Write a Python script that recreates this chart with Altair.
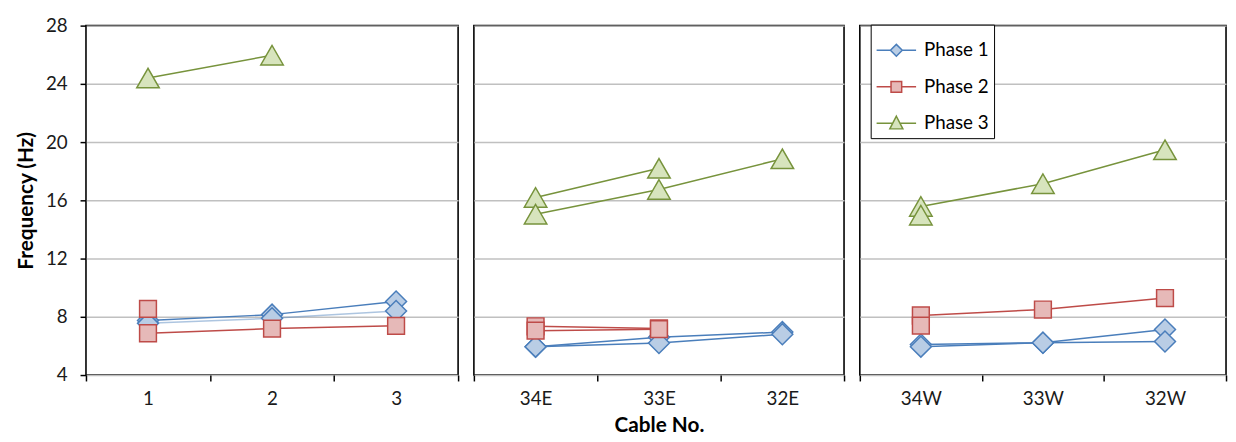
import altair as alt
import pandas as pd

phases = ["Phase 1", "Phase 2", "Phase 3"]
cables_p1 = ["1", "2", "3"]
cables_p2 = ["34E", "33E", "32E"]
cables_p3 = ["34W", "33W", "32W"]
y_ticks = [4, 8, 12, 16, 20, 24, 28]

# Panel 1 (cables 1-3)
p1_phase1_a = [7.75, 8.15, 9.05]
p1_phase1_b = [7.55, 7.9, 8.4]
p1_phase2_a = [6.87, 7.19, 7.38]
p1_phase2_b = [8.55, None, None]
p1_phase3_a = [24.4, 25.97, None]

# Panel 2 (34E, 33E, 32E)
p2_phase1_a = [5.95, 6.6, 6.95]
p2_phase1_b = [5.95, 6.2, 6.8]
p2_phase2_a = [7.35, 7.2, None]
p2_phase2_b = [7.05, 7.15, None]
p2_phase3_a = [16.2, 18.2, None]
p2_phase3_b = [15.05, 16.75, 18.85]

# Panel 3 (34W, 33W, 32W)
p3_phase1_a = [6.1, 6.22, 7.13]
p3_phase1_b = [5.95, 6.22, 6.3]
p3_phase2_a = [8.09, 8.5, 9.29]
p3_phase2_b = [7.39, None, None]
p3_phase3_a = [15.58, 17.14, 19.47]
p3_phase3_b = [14.98, None, None]

dark = ["#4a7ebb", "#be4b48", "#77933c"]
light = ["#b9cde5", "#e6b9b8", "#d7e4bd"]
shapes = ["diamond", "square", "triangle-up"]
sizes = [450, 290, 520]
legend_paths = [
    "M-1,0H-0.3M0.3,0H1M-0.3,0L0,-0.3L0.3,0L0,0.3Z",
    "M-1,0H-0.27M0.27,0H1M-0.27,-0.27H0.27V0.27H-0.27Z",
    "M-1,0H-0.19M0.19,0H1M0,-0.36L0.33,0.28L-0.33,0.28Z",
]

series_table = [
    ("P1", "Phase 1", "A", cables_p1, p1_phase1_a),
    ("P1", "Phase 1", "B", cables_p1, p1_phase1_b),
    ("P1", "Phase 2", "A", cables_p1, p1_phase2_a),
    ("P1", "Phase 2", "B", cables_p1, p1_phase2_b),
    ("P1", "Phase 3", "A", cables_p1, p1_phase3_a),
    ("P2", "Phase 1", "A", cables_p2, p2_phase1_a),
    ("P2", "Phase 1", "B", cables_p2, p2_phase1_b),
    ("P2", "Phase 2", "A", cables_p2, p2_phase2_a),
    ("P2", "Phase 2", "B", cables_p2, p2_phase2_b),
    ("P2", "Phase 3", "A", cables_p2, p2_phase3_a),
    ("P2", "Phase 3", "B", cables_p2, p2_phase3_b),
    ("P3", "Phase 1", "A", cables_p3, p3_phase1_a),
    ("P3", "Phase 1", "B", cables_p3, p3_phase1_b),
    ("P3", "Phase 2", "A", cables_p3, p3_phase2_a),
    ("P3", "Phase 2", "B", cables_p3, p3_phase2_b),
    ("P3", "Phase 3", "A", cables_p3, p3_phase3_a),
    ("P3", "Phase 3", "B", cables_p3, p3_phase3_b),
]

rows = []
for panel, phase, series, cables, values in series_table:
    for c, v in zip(cables, values):
        if v is not None:
            rows.append({"panel": panel, "phase": phase, "series": series, "cable": c, "value": v})
df = pd.DataFrame(rows)

FONT = "Lato"


def panel_chart(panel, cables, width, first=False, xtitle=None, with_legend=False):
    base = alt.Chart(df).transform_filter(alt.datum.panel == panel)
    x = alt.X(
        "cable:N",
        sort=cables,
        scale=alt.Scale(type="band", domain=cables, paddingInner=0, paddingOuter=0),
        axis=alt.Axis(
            title=xtitle if xtitle else None,
            labelAngle=0, tickBand="extent", domain=False, ticks=True,
            tickSize=6, tickWidth=1.5, tickColor="black",
            labelPadding=9, titlePadding=6, grid=False,
        ),
    )
    if first:
        yaxis = alt.Axis(values=y_ticks, title="Frequency (Hz)", domain=False, tickSize=6,
                         tickWidth=1.5, tickColor="black", labelPadding=13, titlePadding=9)
    else:
        yaxis = alt.Axis(values=y_ticks, title=None, labels=False, ticks=False, domain=False)
    y = alt.Y("value:Q", scale=alt.Scale(domain=[4, 28], nice=False, zero=False), axis=yaxis)

    layers = []
    for i, ph in enumerate(phases):
        sub = base.transform_filter(alt.datum.phase == ph)
        layers.append(
            sub.mark_line(stroke=dark[i], strokeWidth=1.5).encode(
                x=x, y=y,
                detail="series:N",
                strokeOpacity=alt.condition(
                    "datum.panel == 'P1' && datum.series == 'B' && datum.phase == 'Phase 1'",
                    alt.value(0.45),
                    alt.value(1.0),
                ),
            )
        )
        layers.append(
            sub.mark_point(shape=shapes[i], size=sizes[i], filled=True, fill=light[i],
                           stroke=dark[i], strokeWidth=1.5, opacity=1)
            .encode(x=x, y=y)
        )
    if with_legend:
        leg = alt.Legend(title=None, orient="none", legendX=795, legendY=-1,
                         fillColor="white", strokeColor="black", padding=5, rowPadding=6,
                         symbolSize=1600, symbolStrokeWidth=1.5, symbolFillColor="white",
                         labelFont=FONT, labelFontSize=19, labelColor="black", labelOffset=7)
        layers.append(
            base.mark_point(filled=True, strokeWidth=1.5, opacity=0)
            .encode(
                x=x, y=y,
                shape=alt.Shape("phase:N", scale=alt.Scale(domain=phases, range=legend_paths), legend=leg),
                fill=alt.Fill("phase:N", scale=alt.Scale(domain=phases, range=light), legend=leg),
                stroke=alt.Stroke("phase:N", scale=alt.Scale(domain=phases, range=dark), legend=leg),
            )
        )
    return alt.layer(*layers).properties(width=width, height=354)


c1 = panel_chart("P1", cables_p1, 377, first=True)
c2 = panel_chart("P2", cables_p2, 375, xtitle="Cable No.")
c3 = panel_chart("P3", cables_p3, 371, with_legend=True)

chart = (
    alt.hconcat(c1, c2, c3, spacing=12)
    .properties(padding={"left": 7, "top": 5, "right": 0, "bottom": 5})
    .configure_view(stroke="black", strokeWidth=1.6)
    .configure_axis(gridColor="#c0c0c0", gridWidth=1.5, labelFont=FONT, labelFontSize=19,
                    labelColor="#1a1a1a", titleFont=FONT, titleFontSize=21,
                    titleFontWeight="bold", titleColor="black")
)

chart.save("out.html", embed_options={"renderer": "svg", "actions": False})
